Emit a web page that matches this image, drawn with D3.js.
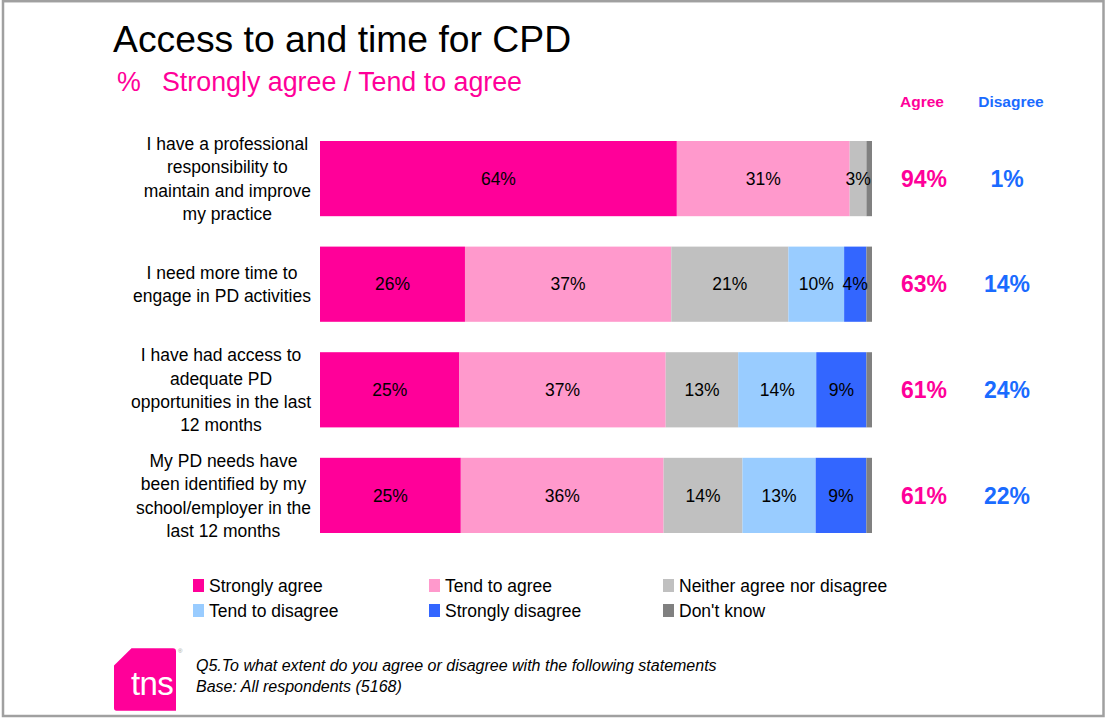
<!DOCTYPE html>
<html>
<head>
<meta charset="utf-8">
<script src="https://cdn.jsdelivr.net/npm/d3@7/dist/d3.min.js"></script>
<style>
  html, body { margin: 0; padding: 0; background: #fff; }
  svg { display: block; font-family: "Liberation Sans", Arial, Helvetica, sans-serif; }
</style>
</head>
<body>
<svg id="chart" width="1105" height="718"></svg>
<script>
// Statements (each split into the lines shown beside its bar)
const categories = [
  ["I have a professional", "responsibility to", "maintain and improve", "my practice"],
  ["I need more time to", "engage in PD activities"],
  ["I have had access to", "adequate PD", "opportunities in the last", "12 months"],
  ["My PD needs have", "been identified by my", "school/employer in the", "last 12 months"]
];

const seriesNames = ["Strongly agree", "Tend to agree", "Neither agree nor disagree",
                     "Tend to disagree", "Strongly disagree", "Don't know"];
const seriesColors = ["#FF0099", "#FF99CC", "#C0C0C0", "#99CCFF", "#3366FF", "#808080"];

// Percentages per statement
const stronglyAgree    = [64, 26, 25, 25];
const tendToAgree      = [31, 37, 37, 36];
const neither          = [3, 21, 13, 14];
const tendToDisagree   = [0, 10, 14, 13];
const stronglyDisagree = [0, 4, 9, 9];
const dontKnow         = [1, 1, 1, 1];

// Net scores shown to the right of the bars
const agreeTotals    = [94, 63, 61, 61];
const disagreeTotals = [1, 14, 24, 22];

const title = "Access to and time for CPD";
const subtitle = "Strongly agree / Tend to agree";
const footnotes = ["Q5.To what extent do you agree or disagree with the following statements",
                   "Base: All respondents (5168)"];

const PINK = "#FF0099";
const BLUE = "#1A6BFF";

const svg = d3.select("#chart");

// Outer frame
svg.append("rect")
  .attr("x", 3).attr("y", 1.2).attr("width", 1100.5).attr("height", 714.8)
  .attr("fill", "#fff").attr("stroke", "#A0A0A0").attr("stroke-width", 2.5);

// Title block
svg.append("text").attr("x", 113).attr("y", 52)
  .attr("font-size", 37.3).attr("fill", "#000").text(title);
svg.append("text").attr("x", 117).attr("y", 91)
  .attr("font-size", 26.8).attr("fill", PINK).text("%");
svg.append("text").attr("x", 162).attr("y", 91)
  .attr("font-size", 26.8).attr("fill", PINK).text(subtitle);

// Build stacked (100%) data
const seriesValues = [stronglyAgree, tendToAgree, neither, tendToDisagree, stronglyDisagree, dontKnow];
const rows = categories.map((c, i) => {
  const r = { idx: i };
  seriesNames.forEach((s, j) => { r[s] = seriesValues[j][i]; });
  return r;
});
const stacked = d3.stack().keys(seriesNames).offset(d3.stackOffsetExpand)(rows);

const x = d3.scaleLinear().domain([0, 1]).range([320, 872]);
const y = d3.scaleBand().domain(d3.range(categories.length))
  .range([141, 533]).paddingInner(0.288).paddingOuter(0);

const color = d3.scaleOrdinal().domain(seriesNames).range(seriesColors);

const layers = svg.append("g").selectAll("g.layer")
  .data(stacked).join("g").attr("class", "layer")
  .attr("fill", d => color(d.key));

layers.selectAll("rect")
  .data(d => d)
  .join("rect")
  .attr("x", d => x(d[0]))
  .attr("y", d => y(d.data.idx))
  .attr("width", d => Math.max(0, x(d[1]) - x(d[0])))
  .attr("height", y.bandwidth());

// Segment value labels
const labelData = [];
stacked.forEach((layer, j) => {
  if (seriesNames[j] === "Don't know") return;
  layer.forEach(d => {
    const v = d.data[layer.key];
    if (v > 0) labelData.push({ v, cx: (x(d[0]) + x(d[1])) / 2, cy: y(d.data.idx) + y.bandwidth() / 2 });
  });
});
svg.append("g").selectAll("text")
  .data(labelData).join("text")
  .attr("x", d => d.cx).attr("y", d => d.cy)
  .attr("dy", "0.36em")
  .attr("text-anchor", "middle")
  .attr("font-size", 17.5).attr("fill", "#000")
  .text(d => d.v + "%");

// Category labels: lines centered within a box whose right edge sits just left of the bars
const lineH = 23.3;
const labelRight = 311;
const catG = svg.append("g");
categories.forEach((lines, i) => {
  const cy = y(i) + y.bandwidth() / 2;
  const t = catG.append("text").attr("text-anchor", "middle")
    .attr("font-size", 17.5).attr("fill", "#000");
  const spans = lines.map((ln, k) => t.append("tspan")
    .attr("y", cy + (k - (lines.length - 1) / 2) * lineH + 6.5)
    .text(ln));
  const maxW = d3.max(spans, s => s.node().getComputedTextLength());
  spans.forEach(s => s.attr("x", labelRight - maxW / 2));
});

// Net score columns
const agreeX = 924, disagreeX = 1007;
svg.append("text").attr("x", 922).attr("y", 107).attr("text-anchor", "middle")
  .attr("font-size", 15.5).attr("font-weight", "bold").attr("fill", PINK).text("Agree");
svg.append("text").attr("x", 1011).attr("y", 107).attr("text-anchor", "middle")
  .attr("font-size", 15.5).attr("font-weight", "bold").attr("fill", BLUE).text("Disagree");

svg.append("g").selectAll("text")
  .data(agreeTotals).join("text")
  .attr("x", agreeX)
  .attr("y", (d, i) => y(i) + y.bandwidth() / 2)
  .attr("dy", "0.36em").attr("text-anchor", "middle")
  .attr("font-size", 23).attr("font-weight", "bold").attr("fill", PINK)
  .text(d => d + "%");
svg.append("g").selectAll("text")
  .data(disagreeTotals).join("text")
  .attr("x", disagreeX)
  .attr("y", (d, i) => y(i) + y.bandwidth() / 2)
  .attr("dy", "0.36em").attr("text-anchor", "middle")
  .attr("font-size", 23).attr("font-weight", "bold").attr("fill", BLUE)
  .text(d => d + "%");

// Legend: three columns, two rows
const legendCols = [193, 429, 663];
const legendRows = [592, 617];
const legend = svg.append("g").selectAll("g")
  .data(seriesNames).join("g")
  .attr("transform", (d, i) => `translate(${legendCols[i % 3]},${legendRows[Math.floor(i / 3)]})`);
legend.append("rect").attr("x", 0).attr("y", -13).attr("width", 11).attr("height", 13)
  .attr("fill", d => color(d));
legend.append("text").attr("x", 16).attr("y", 0)
  .attr("font-size", 17.5).attr("fill", "#000").text(d => d);

// tns logo
const logo = svg.append("g");
logo.append("path")
  .attr("d", "M131.5,648.3 L173,648.3 Q176,648.3 176,651.5 L176,710.8 L116.5,710.8 Q114,710.8 114,708 L114,665.5 Z")
  .attr("fill", PINK);
logo.append("text").attr("x", 131).attr("y", 695)
  .attr("font-size", 33).attr("fill", "#fff").attr("letter-spacing", -0.6).text("tns");
logo.append("text").attr("x", 178).attr("y", 653)
  .attr("font-size", 6).attr("fill", "#999").text("®");

// Footnotes
svg.append("g").selectAll("text")
  .data(footnotes).join("text")
  .attr("x", 196).attr("y", (d, i) => 671 + i * 21)
  .attr("font-size", 16).attr("font-style", "italic").attr("fill", "#000")
  .text(d => d);
</script>
</body>
</html>
